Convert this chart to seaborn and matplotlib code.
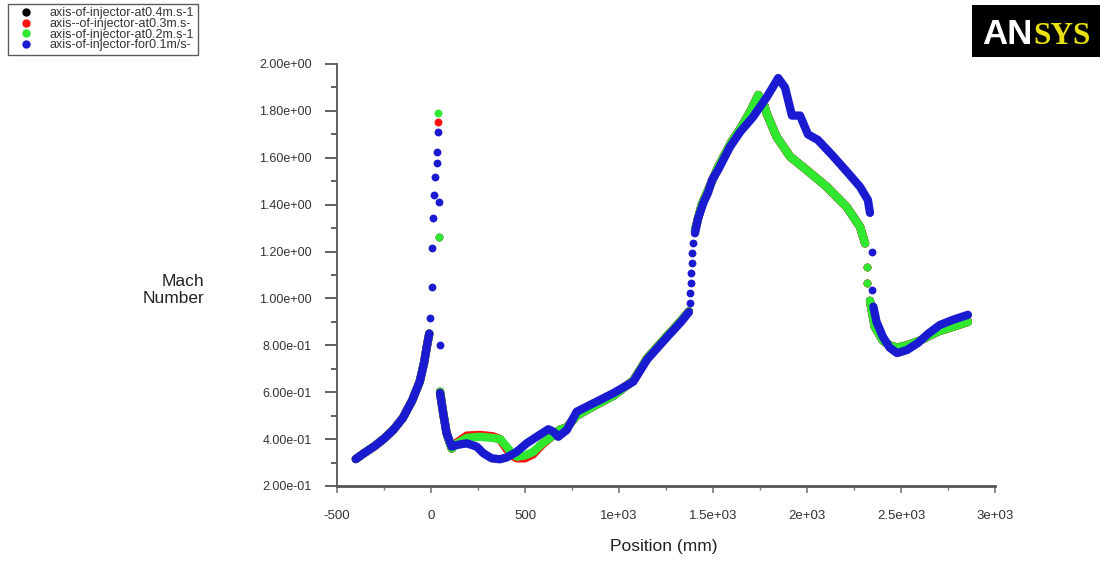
import matplotlib
matplotlib.use("Agg")
import matplotlib.pyplot as plt
import seaborn as sns
import pandas as pd
from matplotlib.patches import Rectangle
from matplotlib.lines import Line2D
from matplotlib.ticker import MultipleLocator

# ---------------- data ----------------
SERIES = ["axis-of-injector-at0.4m.s-1", "axis--of-injector-at0.3m.s-",
          "axis-of-injector-at0.2m.s-1", "axis-of-injector-for0.1m/s-"]
COLORS = ["#000000", "#ff1010", "#30e830", "#1a1ad0"]

# inlet branch (common to all series, only the top one is visible)
INLET_X = [-400, -360, -300, -250, -200, -150, -100, -60, -37, -21, -9]
INLET_Y = [0.315, 0.338, 0.37, 0.402, 0.44, 0.49, 0.565, 0.645, 0.725, 0.80, 0.85]

# blue series 0.1 m/s
BLUE_S1_X = [48, 65, 83, 110, 137, 190, 243, 278, 323, 367, 403, 456, 509, 562,
             624, 651, 677, 722, 775, 864, 970, 1076, 1150, 1250, 1330, 1372]
BLUE_S1_Y = [0.597, 0.51, 0.425, 0.368, 0.375, 0.382, 0.368, 0.34, 0.318, 0.314,
             0.322, 0.346, 0.382, 0.41, 0.442, 0.432, 0.41, 0.439, 0.517, 0.553,
             0.596, 0.645, 0.74, 0.83, 0.90, 0.942]
BLUE_S2_X = [1404, 1420, 1450, 1473, 1495, 1527, 1590, 1644, 1713, 1787, 1847,
             1883, 1920, 1963, 2005, 2058, 2133, 2213, 2282, 2324, 2335]
BLUE_S2_Y = [1.278, 1.34, 1.41, 1.45, 1.505, 1.548, 1.646, 1.71, 1.774, 1.86, 1.94,
             1.90, 1.78, 1.78, 1.70, 1.676, 1.612, 1.54, 1.476, 1.42, 1.365]
BLUE_S3_X = [2353, 2370, 2404, 2440, 2479, 2532, 2590, 2645, 2707, 2780, 2856]
BLUE_S3_Y = [0.965, 0.90, 0.836, 0.79, 0.767, 0.78, 0.81, 0.85, 0.887, 0.91, 0.93]
BLUE_DOT_X = [-5, 4, 7, 12, 18, 23, 34, 34, 39, 44, 48,
              1378, 1378, 1383, 1383, 1387, 1390, 1395, 2344, 2344]
BLUE_DOT_Y = [0.918, 1.05, 1.214, 1.345, 1.441, 1.52, 1.577, 1.626, 1.712, 1.413, 0.80,
              0.98, 1.022, 1.065, 1.107, 1.15, 1.193, 1.235, 1.20, 1.036]

# green series 0.2 m/s
GREEN_S1_X = [48, 65, 83, 110, 137, 190, 260, 330, 367, 400, 430, 457, 500, 543,
              590, 640, 686, 722, 775, 864, 970, 1076, 1150, 1250, 1330, 1372]
GREEN_S1_Y = [0.602, 0.51, 0.425, 0.36, 0.38, 0.405, 0.41, 0.405, 0.40, 0.37, 0.34,
              0.325, 0.33, 0.345, 0.38, 0.41, 0.44, 0.45, 0.50, 0.54, 0.585, 0.65,
              0.745, 0.835, 0.905, 0.945]
GREEN_S2_X = [1404, 1440, 1473, 1527, 1600, 1650, 1700, 1741, 1770, 1785, 1838,
              1910, 1998, 2104, 2211, 2282, 2309]
GREEN_S2_Y = [1.29, 1.40, 1.46, 1.56, 1.67, 1.73, 1.80, 1.868, 1.83, 1.79, 1.69,
              1.605, 1.548, 1.477, 1.39, 1.306, 1.235]
GREEN_S3_X = [2335, 2360, 2404, 2440, 2479, 2532, 2600, 2700, 2780, 2856]
GREEN_S3_Y = [0.99, 0.88, 0.82, 0.80, 0.79, 0.80, 0.82, 0.86, 0.88, 0.90]
GREEN_DOT_X = [39, 44, 2320, 2320]
GREEN_DOT_Y = [1.79, 1.264, 1.134, 1.066]

# red series 0.3 m/s (mostly hidden under green)
RED_S1_X = [48, 65, 83, 110, 137, 190, 260, 330, 367, 400, 430, 457, 500, 543,
            590, 640, 686, 722, 775, 864, 970, 1076, 1150, 1250, 1330, 1372]
RED_S1_Y = [0.602, 0.51, 0.425, 0.36, 0.385, 0.415, 0.418, 0.412, 0.40, 0.36, 0.33,
            0.318, 0.318, 0.335, 0.375, 0.41, 0.44, 0.45, 0.50, 0.54, 0.585, 0.65,
            0.745, 0.835, 0.905, 0.945]
RED_DOT_X = [39, 2320, 2320]
RED_DOT_Y = [1.754, 1.134, 1.066]

# black series 0.4 m/s (hidden under green)
BLACK_S1_Y = [0.602, 0.51, 0.425, 0.36, 0.383, 0.41, 0.414, 0.408, 0.40, 0.365, 0.335,
              0.32, 0.322, 0.34, 0.378, 0.41, 0.44, 0.45, 0.50, 0.54, 0.585, 0.65,
              0.745, 0.835, 0.905, 0.945]
BLACK_DOT_X = [44, 2320, 2320]
BLACK_DOT_Y = [1.26, 1.134, 1.066]

XTICKS = [-500, 0, 500, 1000, 1500, 2000, 2500, 3000]
XTICK_LABELS = ["-500", "0", "500", "1e+03", "1.5e+03", "2e+03", "2.5e+03", "3e+03"]
YTICKS = [0.2, 0.4, 0.6, 0.8, 1.0, 1.2, 1.4, 1.6, 1.8, 2.0]
YTICK_LABELS = ["2.00e-01", "4.00e-01", "6.00e-01", "8.00e-01", "1.00e+00",
                "1.20e+00", "1.40e+00", "1.60e+00", "1.80e+00", "2.00e+00"]

# ---------------- build tables ----------------
segments = {
    SERIES[0]: [(INLET_X, INLET_Y), (RED_S1_X, BLACK_S1_Y), (GREEN_S2_X, GREEN_S2_Y), (GREEN_S3_X, GREEN_S3_Y)],
    SERIES[1]: [(INLET_X, INLET_Y), (RED_S1_X, RED_S1_Y), (GREEN_S2_X, GREEN_S2_Y), (GREEN_S3_X, GREEN_S3_Y)],
    SERIES[2]: [(INLET_X, INLET_Y), (GREEN_S1_X, GREEN_S1_Y), (GREEN_S2_X, GREEN_S2_Y), (GREEN_S3_X, GREEN_S3_Y)],
    SERIES[3]: [(INLET_X, INLET_Y), (BLUE_S1_X, BLUE_S1_Y), (BLUE_S2_X, BLUE_S2_Y), (BLUE_S3_X, BLUE_S3_Y)],
}
dots = {
    SERIES[0]: (BLACK_DOT_X, BLACK_DOT_Y),
    SERIES[1]: (RED_DOT_X, RED_DOT_Y),
    SERIES[2]: (GREEN_DOT_X, GREEN_DOT_Y),
    SERIES[3]: (BLUE_DOT_X, BLUE_DOT_Y),
}
rows = []
for s, segs in segments.items():
    for k, (xs, ys) in enumerate(segs):
        for x, y in zip(xs, ys):
            rows.append({"series": s, "seg": k, "pos": x, "mach": y})
df_lines = pd.DataFrame(rows)
drows = []
for s, (xs, ys) in dots.items():
    for x, y in zip(xs, ys):
        drows.append({"series": s, "pos": x, "mach": y})
df_dots = pd.DataFrame(drows)
palette = dict(zip(SERIES, COLORS))

# ---------------- figure ----------------
sns.set_style("ticks")
plt.rcParams["font.family"] = ["Liberation Sans Narrow", "Liberation Sans", "DejaVu Sans"]

W, H = 1104, 563
fig = plt.figure(figsize=(W / 100, H / 100), dpi=100)
fig.patch.set_facecolor("white")
ax = fig.add_axes([337 / W, 1 - 486 / H, (995 - 337) / W, (486 - 64) / H])

for i, s in enumerate(SERIES):
    sub = df_lines[df_lines["series"] == s]
    sns.lineplot(data=sub, x="pos", y="mach", units="seg", estimator=None, sort=False,
                 color=palette[s], lw=6, legend=False, ax=ax,
                 solid_capstyle="round", solid_joinstyle="round", zorder=2 + i)
    subd = df_dots[df_dots["series"] == s]
    sns.scatterplot(data=subd, x="pos", y="mach", color=palette[s], s=32,
                    linewidth=0, legend=False, ax=ax, zorder=2 + i)

ax.set_xlim(-500, 3000)
ax.set_ylim(0.2, 2.0)
ax.set_xticks(XTICKS)
ax.set_xticklabels(XTICK_LABELS)
ax.set_yticks(YTICKS)
ax.set_yticklabels(YTICK_LABELS)
ax.xaxis.set_minor_locator(MultipleLocator(250))
ax.yaxis.set_minor_locator(MultipleLocator(0.1))
ax.set_xlabel("")
ax.set_ylabel("")
for side in ["top", "right"]:
    ax.spines[side].set_visible(False)
ax.spines["left"].set_color("#555555")
ax.spines["left"].set_linewidth(1.3)
ax.spines["bottom"].set_color("#555555")
ax.spines["bottom"].set_linewidth(2.0)
ax.tick_params(axis="y", which="major", length=9, width=1.3, color="#555555",
               pad=9, labelsize=9, labelcolor="#333333")
ax.tick_params(axis="y", which="minor", length=4.5, width=1.3, color="#555555")
ax.tick_params(axis="x", which="major", length=5, width=1.2, color="#777777",
               pad=12, labelsize=9.5, labelcolor="#333333")
ax.tick_params(axis="x", which="minor", length=3, width=1.0, color="#777777")

fig.text(664 / W, 1 - 547 / H, "Position (mm)", ha="center", va="center",
         fontsize=12.5, color="#222222")
fig.text(204 / W, 1 - 290 / H, "Mach\nNumber", ha="right", va="center",
         multialignment="right", fontsize=12.5, color="#222222", linespacing=1.2)

# legend box
handles = [Line2D([], [], marker="o", ls="", color=c, ms=5) for c in COLORS]
leg = fig.legend(handles, SERIES, loc="upper left", bbox_to_anchor=(8 / W, 1 - 4 / H),
                 frameon=True, fancybox=False, fontsize=9, handlelength=2.4,
                 handletextpad=0.7, borderpad=0.25, labelspacing=-0.1,
                 borderaxespad=0)
leg.get_frame().set_edgecolor("#333333")
leg.get_frame().set_linewidth(1.0)
for t in leg.get_texts():
    t.set_color("#333333")

# ANSYS logo
fig.patches.append(Rectangle((972 / W, 1 - 57 / H), (1100 - 972) / W, 52 / H,
                             transform=fig.transFigure, facecolor="black",
                             edgecolor="none", zorder=1))
fig.text(982 / W, 1 - 44 / H, "AN", ha="left", va="baseline", fontsize=25,
         fontweight="bold", color="white", family=["Liberation Sans Narrow", "Liberation Sans", "DejaVu Sans"])
fig.text(1033 / W, 1 - 44 / H, "SYS", ha="left", va="baseline", fontsize=22.5,
         fontweight="bold", color="#e8e010", family=["Liberation Serif", "DejaVu Serif"])

fig.savefig("out.png", dpi=100)
